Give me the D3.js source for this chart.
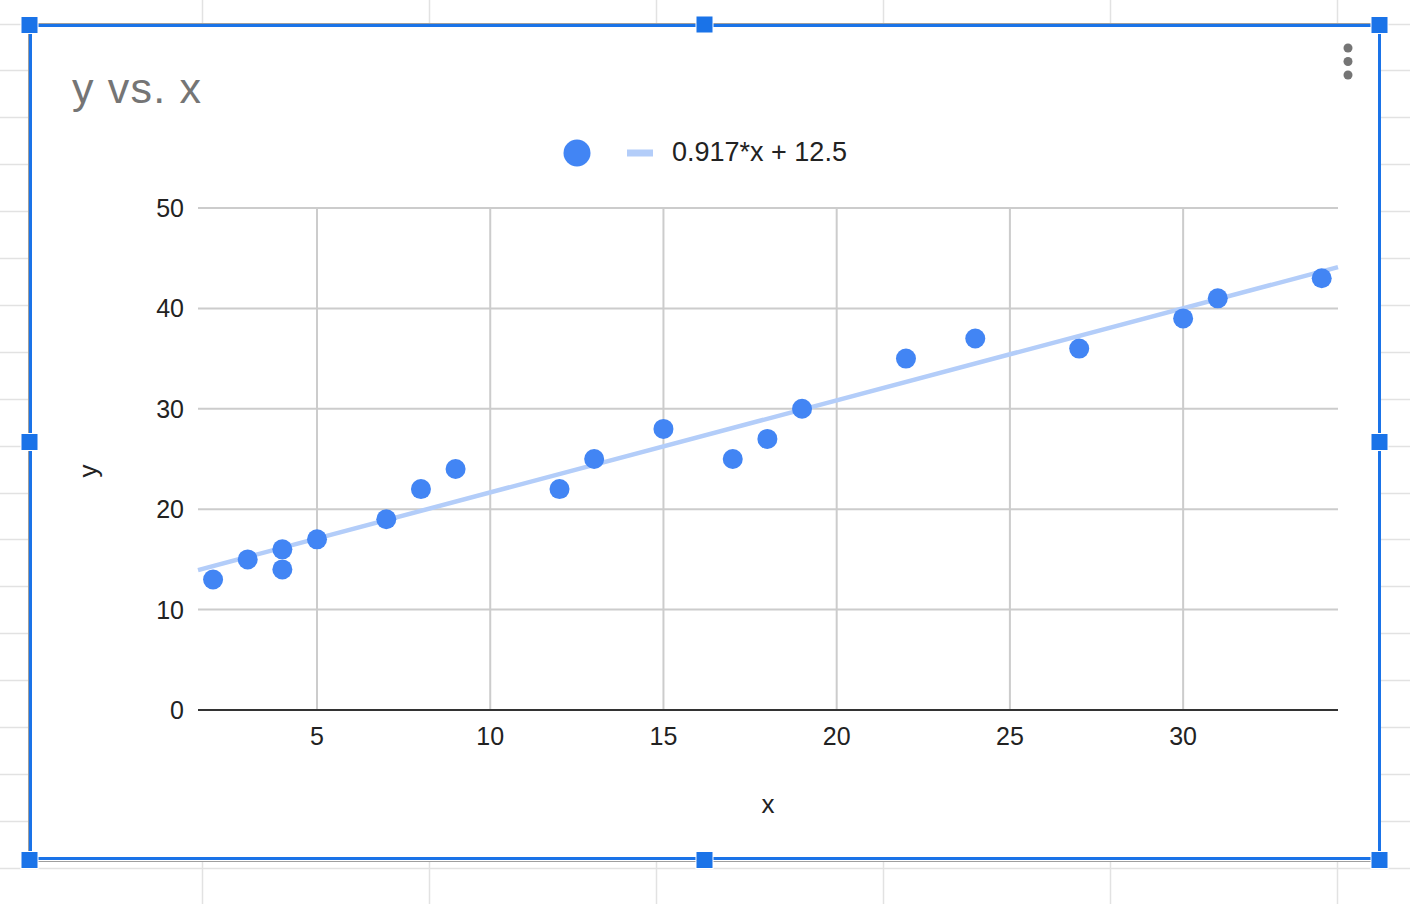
<!DOCTYPE html>
<html>
<head>
<meta charset="utf-8">
<script src="https://cdn.jsdelivr.net/npm/d3@7"></script>
<style>
  html, body { margin: 0; padding: 0; background: #fff; }
  svg { display: block; font-family: Arial, "Liberation Sans", sans-serif; }
</style>
</head>
<body>
<svg id="chart" width="1410" height="904"></svg>
<script>
// ---- data ----
const xValues = [2, 3, 4, 4, 5, 7, 8, 9, 12, 13, 15, 17, 18, 19, 22, 24, 27, 30, 31, 34];
const yValues = [13, 15, 16, 14, 17, 19, 22, 24, 22, 25, 28, 25, 27, 30, 35, 37, 36, 39, 41, 43];
const xTicks = [5, 10, 15, 20, 25, 30];
const yTicks = [0, 10, 20, 30, 40, 50];
const trendSlope = [0.917];
const trendIntercept = [12.5];
const trendLabel = ["0.917*x + 12.5"];
const titleText = ["y vs. x"];
const xAxisTitle = ["x"];
const yAxisTitle = ["y"];

const svg = d3.select("#chart");
const W = 1410, H = 904;

// ---- spreadsheet background grid ----
const bg = svg.append("g");
const rowLines = d3.range(23.5, H, 46.9);
const colLines = d3.range(202.5, W, 227);
bg.selectAll("line.r").data(rowLines).join("line")
  .attr("x1", 0).attr("x2", W).attr("y1", d => Math.round(d) + 0.5).attr("y2", d => Math.round(d) + 0.5)
  .attr("stroke", "#e2e2e2").attr("stroke-width", 1.5);
bg.selectAll("line.c").data(colLines).join("line")
  .attr("y1", 0).attr("y2", H).attr("x1", d => d).attr("x2", d => d)
  .attr("stroke", "#e2e2e2").attr("stroke-width", 1.5);

// chart card
svg.append("rect").attr("x", 28).attr("y", 23).attr("width", 1353).attr("height", 839).attr("fill", "#fff");
// gray chart border (top/left/bottom)
svg.append("line").attr("x1", 28).attr("x2", 1380).attr("y1", 23.5).attr("y2", 23.5).attr("stroke", "#9e9e9e").attr("stroke-width", 1);
svg.append("line").attr("x1", 28.5).attr("x2", 28.5).attr("y1", 23).attr("y2", 862).attr("stroke", "#9e9e9e").attr("stroke-width", 1);
svg.append("line").attr("x1", 28).attr("x2", 1380).attr("y1", 861.5).attr("y2", 861.5).attr("stroke", "#9e9e9e").attr("stroke-width", 1);

// ---- scales ----
const plot = { left: 198, right: 1338, top: 208, bottom: 710 };
const x = d3.scaleLinear().domain([1.565, 34.47]).range([plot.left, plot.right]);
const y = d3.scaleLinear().domain([0, 50]).range([plot.bottom, plot.top]);

const g = svg.append("g");

// horizontal gridlines
g.selectAll("line.hg").data(yTicks.filter(t => t !== 0)).join("line")
  .attr("x1", plot.left).attr("x2", plot.right)
  .attr("y1", d => y(d)).attr("y2", d => y(d))
  .attr("stroke", "#cccccc").attr("stroke-width", 2);
// vertical gridlines
g.selectAll("line.vg").data(xTicks).join("line")
  .attr("y1", plot.top).attr("y2", plot.bottom)
  .attr("x1", d => x(d)).attr("x2", d => x(d))
  .attr("stroke", "#cccccc").attr("stroke-width", 2);
// baseline
g.append("line").attr("x1", plot.left).attr("x2", plot.right)
  .attr("y1", y(0)).attr("y2", y(0)).attr("stroke", "#333333").attr("stroke-width", 2);

// y tick labels
g.selectAll("text.yt").data(yTicks).join("text")
  .attr("x", 184).attr("y", d => y(d)).attr("dy", "0.36em")
  .attr("text-anchor", "end").attr("font-size", 25).attr("fill", "#222")
  .text(d => d);
// x tick labels
g.selectAll("text.xt").data(xTicks).join("text")
  .attr("x", d => x(d)).attr("y", 745)
  .attr("text-anchor", "middle").attr("font-size", 25).attr("fill", "#222")
  .text(d => d);

// trendline
const [x0, x1] = x.domain();
const tl = [x0, x1].map(v => [v, trendSlope[0] * v + trendIntercept[0]]);
g.append("path").datum(tl)
  .attr("d", d3.line().x(d => x(d[0])).y(d => y(d[1])))
  .attr("stroke", "#b3cdf9").attr("stroke-width", 4.5).attr("fill", "none");

// points
g.selectAll("circle.pt").data(xValues.map((v, i) => [v, yValues[i]])).join("circle")
  .attr("cx", d => x(d[0])).attr("cy", d => y(d[1])).attr("r", 10)
  .attr("fill", "#4285f4");

// title
svg.append("text").attr("x", 72).attr("y", 103).attr("font-size", 43).attr("letter-spacing", 1.2)
  .attr("fill", "#757575").text(titleText[0]);

// legend
svg.append("circle").attr("cx", 577).attr("cy", 153).attr("r", 13.5).attr("fill", "#4285f4");
svg.append("rect").attr("x", 627).attr("y", 149.5).attr("width", 26).attr("height", 7).attr("fill", "#b3cdf9");
svg.append("text").attr("x", 672).attr("y", 161).attr("font-size", 27).attr("fill", "#222").text(trendLabel[0]);

// axis titles
svg.append("text").attr("x", 768).attr("y", 813).attr("text-anchor", "middle").attr("font-size", 26).attr("fill", "#222").text(xAxisTitle[0]);
svg.append("text").attr("transform", "translate(97,471) rotate(-90)").attr("text-anchor", "middle").attr("font-size", 26).attr("fill", "#222").text(yAxisTitle[0]);

// menu dots
svg.selectAll("circle.dot").data([48, 61.5, 75]).join("circle")
  .attr("cx", 1348).attr("cy", d => d).attr("r", 4.5).attr("fill", "#757575");

// selection border (blue)
svg.append("rect").attr("x", 30.5).attr("y", 25.5).attr("width", 1349).attr("height", 833)
  .attr("fill", "none").attr("stroke", "#1a73e8").attr("stroke-width", 3);

// handles
const handles = [[29.5, 25], [704.5, 24.5], [1379.5, 25], [29.5, 442], [1379.5, 442], [29.5, 860], [704.5, 860], [1379.5, 860]];
svg.selectAll("rect.h").data(handles).join("rect")
  .attr("x", d => d[0] - 9).attr("y", d => d[1] - 9).attr("width", 18).attr("height", 18)
  .attr("fill", "#fff");
svg.selectAll("rect.h2").data(handles).join("rect")
  .attr("x", d => d[0] - 8).attr("y", d => d[1] - 8).attr("width", 16).attr("height", 16)
  .attr("fill", "#1a73e8");
</script>
</body>
</html>
